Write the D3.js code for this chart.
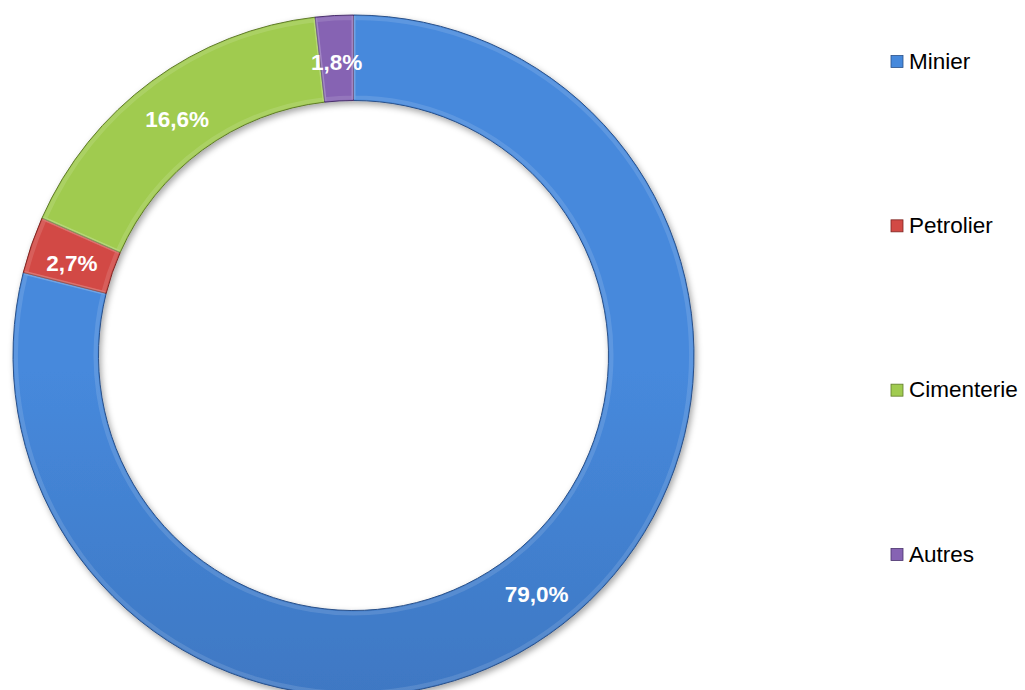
<!DOCTYPE html>
<html>
<head>
<meta charset="utf-8">
<script src="https://cdn.jsdelivr.net/npm/d3@7"></script>
<style>
  body { margin: 0; background: #fff; }
  svg { display: block; font-family: Arial, "Liberation Sans", sans-serif; }
</style>
</head>
<body>
<svg id="chart" width="1025" height="690"></svg>
<script>
// Data
const categories = ['Minier', 'Petrolier', 'Cimenterie', 'Autres'];
const shares = [79.0, 2.7, 16.6, 1.8];
const labels = ['79,0%', '2,7%', '16,6%', '1,8%'];
const topColors = ['#4689dc', '#d24a45', '#a0cb50', '#8663b3'];
const bottomColors = ['#3665a8', '#a8322e', '#7c9c38', '#634590'];
const edgeColors = ['#2a5088', '#7d2522', '#5f7a2a', '#4a326c'];

const svg = d3.select('#chart');
const cx = 353.5, cy = 355.5;
const outerR = 340.5, innerR = 255;

const defs = svg.append('defs');

// soft shadow under the ring
const shadow = defs.append('filter').attr('id', 'shadow')
    .attr('x', '-10%').attr('y', '-10%').attr('width', '120%').attr('height', '120%');
shadow.append('feDropShadow')
    .attr('dx', 2).attr('dy', 3).attr('stdDeviation', 3)
    .attr('flood-color', '#000').attr('flood-opacity', 0.35);

// one vertical gradient per slice
categories.forEach((c, i) => {
    const g = defs.append('linearGradient').attr('id', 'grad' + i)
        .attr('gradientUnits', 'userSpaceOnUse')
        .attr('x1', 0).attr('y1', cy - outerR).attr('x2', 0).attr('y2', cy + outerR);
    g.append('stop').attr('offset', '0%').attr('stop-color', topColors[i]);
    g.append('stop').attr('offset', '100%').attr('stop-color', bottomColors[i]);
});

const pie = d3.pie().sort(null).value(d => d);
const arcs = pie(shares);
const arc = d3.arc().innerRadius(innerR).outerRadius(outerR);
const bevelArc = d3.arc().innerRadius(innerR + 3).outerRadius(outerR - 3);

const ring = svg.append('g').attr('transform', `translate(${cx},${cy})`);

ring.append('g').attr('filter', 'url(#shadow)')
    .selectAll('path')
    .data(arcs)
    .enter()
    .append('path')
    .attr('d', arc)
    .attr('fill', (d, i) => `url(#grad${i})`)
    .attr('stroke', (d, i) => edgeColors[i])
    .attr('stroke-width', 1);

// light bevel highlight
ring.append('g')
    .selectAll('path')
    .data(arcs)
    .enter()
    .append('path')
    .attr('d', bevelArc)
    .attr('fill', 'none')
    .attr('stroke', '#fff')
    .attr('stroke-opacity', 0.12)
    .attr('stroke-width', 4);

// percentage labels
const labelArc = d3.arc().innerRadius((innerR + outerR) / 2).outerRadius((innerR + outerR) / 2);
ring.append('g')
    .selectAll('text')
    .data(arcs)
    .enter()
    .append('text')
    .attr('transform', d => {
        const [x, y] = labelArc.centroid(d);
        return `translate(${x},${y + 4})`;
    })
    .attr('text-anchor', 'middle')
    .attr('dy', '0.35em')
    .attr('fill', '#fff')
    .attr('font-weight', 'bold')
    .attr('font-size', '22.5px')
    .text((d, i) => labels[i]);

// legend
const legendY = d3.scalePoint().domain(categories).range([60.5, 553.5]);
const legend = svg.append('g');
const item = legend.selectAll('g')
    .data(categories)
    .enter()
    .append('g')
    .attr('transform', d => `translate(891,${legendY(d)})`);

item.append('rect')
    .attr('x', 0).attr('y', -5).attr('width', 12).attr('height', 12)
    .attr('fill', (d, i) => topColors[i])
    .attr('stroke', (d, i) => edgeColors[i])
    .attr('stroke-width', 0.8);

item.append('text')
    .attr('x', 18).attr('y', 0)
    .attr('dy', '0.36em')
    .attr('font-size', '22.5px')
    .attr('fill', '#000')
    .text(d => d);
</script>
</body>
</html>
